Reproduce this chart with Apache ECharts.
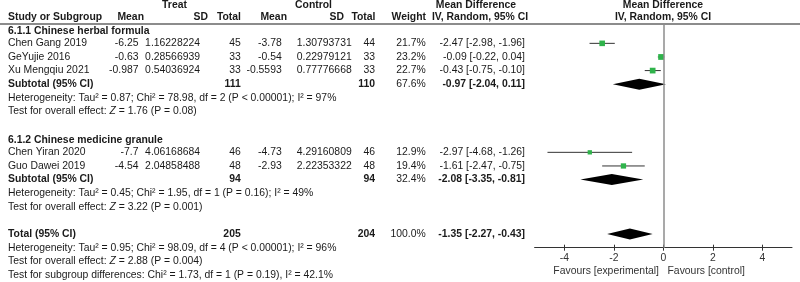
<!DOCTYPE html>
<html>
<head>
<meta charset="utf-8">
<script src="https://cdn.jsdelivr.net/npm/echarts@6/dist/echarts.min.js"></script>
<style>
html,body{margin:0;padding:0;background:#fff;}
#forest{width:800px;height:282px;}
</style>
</head>
<body>
<div id="forest"></div>
<script>
// study level data
var groupNames = ['6.1.1 Chinese herbal formula', '6.1.2 Chinese medicine granule'];
var studies = ['Chen Gang 2019', 'GeYujie 2016', 'Xu Mengqiu 2021', 'Chen Yiran 2020', 'Guo Dawei 2019'];
var groupOf = [0, 0, 0, 1, 1];
var treatMean = ['-6.25', '-0.63', '-0.987', '-7.7', '-4.54'];
var treatSD = ['1.16228224', '0.28566939', '0.54036924', '4.06168684', '2.04858488'];
var treatN = [45, 33, 33, 46, 48];
var ctrlMean = ['-3.78', '-0.54', '-0.5593', '-4.73', '-2.93'];
var ctrlSD = ['1.30793731', '0.22979121', '0.77776668', '4.29160809', '2.22353322'];
var ctrlN = [44, 33, 33, 46, 48];
var weight = [21.7, 23.2, 22.7, 12.9, 19.4];
var md = [-2.47, -0.09, -0.43, -2.97, -1.61];
var mdLow = [-2.98, -0.22, -0.75, -4.68, -2.47];
var mdHigh = [-1.96, 0.04, -0.10, -1.26, -0.75];

// subgroup totals
var subTreatN = [111, 94];
var subCtrlN = [110, 94];
var subWeight = [67.6, 32.4];
var subMd = [-0.97, -2.08];
var subLow = [-2.04, -3.35];
var subHigh = [0.11, -0.81];
var subHet = ['Heterogeneity: Tau\u00b2 = 0.87; Chi\u00b2 = 78.98, df = 2 (P < 0.00001); I\u00b2 = 97%',
              'Heterogeneity: Tau\u00b2 = 0.45; Chi\u00b2 = 1.95, df = 1 (P = 0.16); I\u00b2 = 49%'];
var subTest = ['Test for overall effect: Z = 1.76 (P = 0.08)',
               'Test for overall effect: Z = 3.22 (P = 0.001)'];

// overall
var totTreatN = 205, totCtrlN = 204, totWeight = 100.0;
var totMd = -1.35, totLow = -2.27, totHigh = -0.43;
var totHet = 'Heterogeneity: Tau\u00b2 = 0.95; Chi\u00b2 = 98.09, df = 4 (P < 0.00001); I\u00b2 = 96%';
var totTest = 'Test for overall effect: Z = 2.88 (P = 0.004)';
var subDiff = 'Test for subgroup differences: Chi\u00b2 = 1.73, df = 1 (P = 0.19), I\u00b2 = 42.1%';

var axisTicks = [-4, -2, 0, 2, 4];
var favLeft = 'Favours [experimental]';
var favRight = 'Favours [control]';

// --- row layout ---
var studyRow = [], subRow = [], lines = [];
var r = 0;
groupNames.forEach(function (g, gi) {
    lines.push({ row: r, kind: 'group', gi: gi }); r++;
    studies.forEach(function (s, i) {
        if (groupOf[i] === gi) { studyRow[i] = r; lines.push({ row: r, kind: 'study', i: i }); r++; }
    });
    subRow[gi] = r; lines.push({ row: r, kind: 'sub', gi: gi }); r++;
    lines.push({ row: r, kind: 'note', text: subHet[gi] }); r++;
    lines.push({ row: r, kind: 'note', text: subTest[gi] }); r++;
    r++;
});
var totalRow = r;
lines.push({ row: r, kind: 'total' }); r++;
lines.push({ row: r, kind: 'note', text: totHet }); r++;
lines.push({ row: r, kind: 'note', text: totTest }); r++;
lines.push({ row: r, kind: 'note', text: subDiff }); r++;

function ciText(m, l, h) {
    return m.toFixed(2) + ' [' + l.toFixed(2) + ', ' + h.toFixed(2) + ']';
}

var studyData = studies.map(function (s, i) {
    return [md[i], studyRow[i], mdLow[i], mdHigh[i], weight[i]];
});
var diamondData = subMd.map(function (m, gi) {
    return [m, subRow[gi], subLow[gi], subHigh[gi]];
});
diamondData.push([totMd, totalRow, totLow, totHigh]);

var chartDom = document.getElementById('forest');
var myChart = echarts.init(chartDom);
var FONT = '"Liberation Sans", Arial, sans-serif';
var FS = 10.4;

var option = {
    animation: false,
    grid: { left: 534.6, top: 24, width: 257.4, height: 223.7 },
    xAxis: [
        {
            type: 'value', min: -5.2, max: 5.2, position: 'bottom',
            axisLine: { onZero: false, lineStyle: { color: '#333', width: 1 } },
            axisTick: { show: true, inside: false, length: 3, customValues: axisTicks, lineStyle: { color: '#333' } },
            axisLabel: { customValues: axisTicks, color: '#333', fontSize: FS, fontFamily: FONT, margin: 5 },
            splitLine: { show: false }
        },
        {
            type: 'value', min: -5.2, max: 5.2, position: 'bottom', offset: 0,
            axisLine: { show: false, onZero: false },
            axisTick: { show: true, inside: true, length: 3, customValues: axisTicks, lineStyle: { color: '#333' } },
            axisLabel: { show: false },
            splitLine: { show: false }
        }
    ],
    yAxis: {
        type: 'value', inverse: true, min: -0.42, max: 16, show: false,
        splitLine: { show: false }
    },
    series: [
        {
            type: 'custom',
            name: 'studies',
            data: studyData,
            encode: { x: [0, 2, 3], y: 1 },
            renderItem: function (params, api) {
                var y = api.value(1);
                var a = api.coord([api.value(2), y]);
                var b = api.coord([api.value(3), y]);
                var c = api.coord([api.value(0), y]);
                var s = 1.2 * Math.sqrt(api.value(4));
                return {
                    type: 'group',
                    children: [
                        { type: 'line', shape: { x1: a[0], y1: a[1], x2: b[0], y2: b[1] }, style: { stroke: '#333', lineWidth: 1 } },
                        { type: 'rect', shape: { x: c[0] - s / 2, y: c[1] - s / 2, width: s, height: s }, style: { fill: '#2fb34b' } }
                    ]
                };
            }
        },
        {
            type: 'custom',
            name: 'pooled',
            data: diamondData,
            encode: { x: [0, 2, 3], y: 1 },
            renderItem: function (params, api) {
                var y = api.value(1);
                var a = api.coord([api.value(2), y]);
                var b = api.coord([api.value(3), y]);
                var c = api.coord([api.value(0), y]);
                var h = 5.5;
                return {
                    type: 'polygon',
                    shape: { points: [[a[0], a[1]], [c[0], c[1] - h], [b[0], b[1]], [c[0], c[1] + h]] },
                    style: { fill: '#000' }
                };
            },
            markLine: {
                silent: true,
                symbol: ['none', 'none'],
                label: { show: false },
                lineStyle: { color: '#8c8c8c', width: 1.5, type: 'solid' },
                data: [[{ coord: [0, -0.42] }, { coord: [0, 16] }]]
            }
        }
    ]
};
myChart.setOption(option);

// --- table text ---
function rowY(row) {
    return myChart.convertToPixel({ yAxisIndex: 0 }, row);
}
function txt(x, row, s, align, bold, dy) {
    var rich = s.indexOf('Z = ') >= 0;
    var str = rich ? s.replace('Z = ', '{i|Z} = ') : s;
    return {
        type: 'text',
        x: x, y: rowY(row) + (dy || 0),
        silent: true,
        style: {
            text: str,
            fill: '#1a1a1a',
            fontSize: FS,
            fontFamily: FONT,
            fontWeight: bold ? 'bold' : 'normal',
            align: align, textAlign: align,
            verticalAlign: 'middle', textVerticalAlign: 'middle',
            rich: { i: { fontStyle: 'italic', fontSize: FS, fontFamily: FONT, fill: '#1a1a1a' } }
        }
    };
}

var col = { name: 8, tMean: 138.5, tSD: 200, tN: 240.7, cMean: 281.7, cSD: 351.7, cN: 375, w: 425.7, ci: 525 };
var g = [];
var h1 = -1.8, h2 = -0.9;
g.push(txt(174.5, h1, 'Treat', 'center', true));
g.push(txt(313.5, h1, 'Control', 'center', true));
g.push(txt(476, h1, 'Mean Difference', 'center', true));
g.push(txt(663, h1, 'Mean Difference', 'center', true));
g.push(txt(col.name, h2, 'Study or Subgroup', 'left', true));
g.push(txt(144, h2, 'Mean', 'right', true));
g.push(txt(208, h2, 'SD', 'right', true));
g.push(txt(241, h2, 'Total', 'right', true));
g.push(txt(287, h2, 'Mean', 'right', true));
g.push(txt(344, h2, 'SD', 'right', true));
g.push(txt(375.5, h2, 'Total', 'right', true));
g.push(txt(426, h2, 'Weight', 'right', true));
g.push(txt(480, h2, 'IV, Random, 95% CI', 'center', true));
g.push(txt(663, h2, 'IV, Random, 95% CI', 'center', true));

lines.forEach(function (L) {
    if (L.kind === 'group') {
        g.push(txt(col.name, L.row, groupNames[L.gi], 'left', true, 1.5));
    } else if (L.kind === 'study') {
        var i = L.i;
        g.push(txt(col.name, L.row, studies[i], 'left'));
        g.push(txt(col.tMean, L.row, treatMean[i], 'right'));
        g.push(txt(col.tSD, L.row, treatSD[i], 'right'));
        g.push(txt(col.tN, L.row, String(treatN[i]), 'right'));
        g.push(txt(col.cMean, L.row, ctrlMean[i], 'right'));
        g.push(txt(col.cSD, L.row, ctrlSD[i], 'right'));
        g.push(txt(col.cN, L.row, String(ctrlN[i]), 'right'));
        g.push(txt(col.w, L.row, weight[i].toFixed(1) + '%', 'right'));
        g.push(txt(col.ci, L.row, ciText(md[i], mdLow[i], mdHigh[i]), 'right'));
    } else if (L.kind === 'sub') {
        var k = L.gi;
        g.push(txt(col.name, L.row, 'Subtotal (95% CI)', 'left', true));
        g.push(txt(col.tN, L.row, String(subTreatN[k]), 'right', true));
        g.push(txt(col.cN, L.row, String(subCtrlN[k]), 'right', true));
        g.push(txt(col.w, L.row, subWeight[k].toFixed(1) + '%', 'right'));
        g.push(txt(col.ci, L.row, ciText(subMd[k], subLow[k], subHigh[k]), 'right', true));
    } else if (L.kind === 'total') {
        g.push(txt(col.name, L.row, 'Total (95% CI)', 'left', true));
        g.push(txt(col.tN, L.row, String(totTreatN), 'right', true));
        g.push(txt(col.cN, L.row, String(totCtrlN), 'right', true));
        g.push(txt(col.w, L.row, totWeight.toFixed(1) + '%', 'right'));
        g.push(txt(col.ci, L.row, ciText(totMd, totLow, totHigh), 'right', true));
    } else {
        g.push(txt(col.name, L.row, L.text, 'left'));
    }
});

// header rule
var ruleY = rowY(-0.42);
g.push({ type: 'line', silent: true, shape: { x1: 0, y1: ruleY, x2: 800, y2: ruleY }, style: { stroke: '#666', lineWidth: 1.5 } });

// favours labels under the axis
g.push({ type: 'text', x: 659, y: 271, silent: true, style: { text: favLeft, fill: '#333', fontSize: FS, fontFamily: FONT, align: 'right', textAlign: 'right', verticalAlign: 'middle', textVerticalAlign: 'middle' } });
g.push({ type: 'text', x: 667.5, y: 271, silent: true, style: { text: favRight, fill: '#333', fontSize: FS, fontFamily: FONT, align: 'left', textAlign: 'left', verticalAlign: 'middle', textVerticalAlign: 'middle' } });

myChart.setOption({ graphic: g });
</script>
</body>
</html>
